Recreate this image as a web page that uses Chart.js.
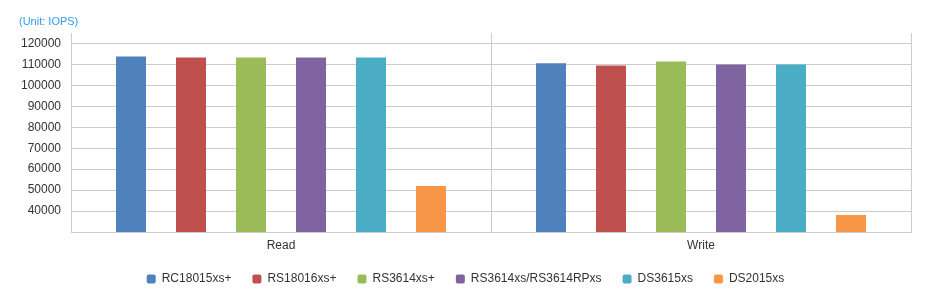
<!DOCTYPE html>
<html>
<head>
<meta charset="utf-8">
<script src="https://cdn.jsdelivr.net/npm/chart.js@4.4.1/dist/chart.umd.min.js"></script>
<style>
html,body{margin:0;padding:0;background:#fff;}
#wrap{width:941px;height:302px;position:relative;}
</style>
</head>
<body>
<div id="wrap"><canvas id="c" width="941" height="302"></canvas></div>
<script>
const categories = ['Read', 'Write'];
const seriesNames = ['RC18015xs+', 'RS18016xs+', 'RS3614xs+', 'RS3614xs/RS3614RPxs', 'DS3615xs', 'DS2015xs'];
const rc18015 = [113800, 110500];
const rs18016 = [113300, 109500];
const rs3614 = [113300, 111400];
const rs3614rp = [113300, 110000];
const ds3615 = [113300, 110000];
const ds2015 = [52000, 38100];
const seriesValues = [rc18015, rs18016, rs3614, rs3614rp, ds3615, ds2015];
const colors = ['#4F81BD', '#C0504D', '#9BBB59', '#8064A2', '#4BACC6', '#F79646'];
const unitLabel = '(Unit: IOPS)';
const yTicks = [30000, 40000, 50000, 60000, 70000, 80000, 90000, 100000, 110000, 120000];
const yMin = 30000, yMax = 125000;

const font = 'Liberation Sans, Arial, sans-serif';

const unitPlugin = {
  id: 'unitLabel',
  afterDraw(chart) {
    const ctx = chart.ctx;
    ctx.save();
    ctx.font = '11px ' + font;
    ctx.fillStyle = '#2F9BEF';
    ctx.textBaseline = 'middle';
    ctx.textAlign = 'left';
    ctx.fillText(unitLabel, 19, 22);
    ctx.restore();
  }
};

new Chart(document.getElementById('c'), {
  type: 'bar',
  data: {
    labels: categories,
    datasets: seriesNames.map((n, i) => ({
      label: n,
      data: seriesValues[i],
      backgroundColor: colors[i],
      borderWidth: 0,
      categoryPercentage: 360 / 420,
      barPercentage: 0.5
    }))
  },
  options: {
    responsive: false,
    animation: false,
    devicePixelRatio: 1,
    layout: { padding: { top: 33, left: 0, right: 10, bottom: 7 } },
    plugins: {
      tooltip: { enabled: false },
      legend: {
        position: 'bottom',
        labels: {
          boxWidth: 9,
          boxHeight: 9,
          padding: 21,
          color: '#333333',
          font: { family: font, size: 12 },
          useBorderRadius: true,
          borderRadius: 2
        }
      }
    },
    scales: {
      x: {
        grid: { color: '#cccccc', drawTicks: false, offset: true },
        border: { color: '#cccccc' },
        ticks: { color: '#333333', font: { family: font, size: 12 }, padding: 6 },
        afterFit(s) { s.height = 20; }
      },
      y: {
        min: yMin,
        max: yMax,
        grid: { color: '#cccccc', drawTicks: false },
        border: { color: '#cccccc' },
        ticks: {
          color: '#333333',
          font: { family: font, size: 12 },
          padding: 10,
          callback(v) { return v <= yMin ? '' : String(v); }
        },
        afterBuildTicks(s) { s.ticks = yTicks.map(v => ({ value: v })); },
        afterFit(s) { s.width = 71; }
      },
      yRight: {
        position: 'right',
        display: true,
        grid: { display: false, drawTicks: false },
        border: { display: false },
        ticks: { display: false },
        afterFit(s) { s.width = 20; }
      }
    }
  },
  plugins: [unitPlugin]
});
</script>
</body>
</html>
